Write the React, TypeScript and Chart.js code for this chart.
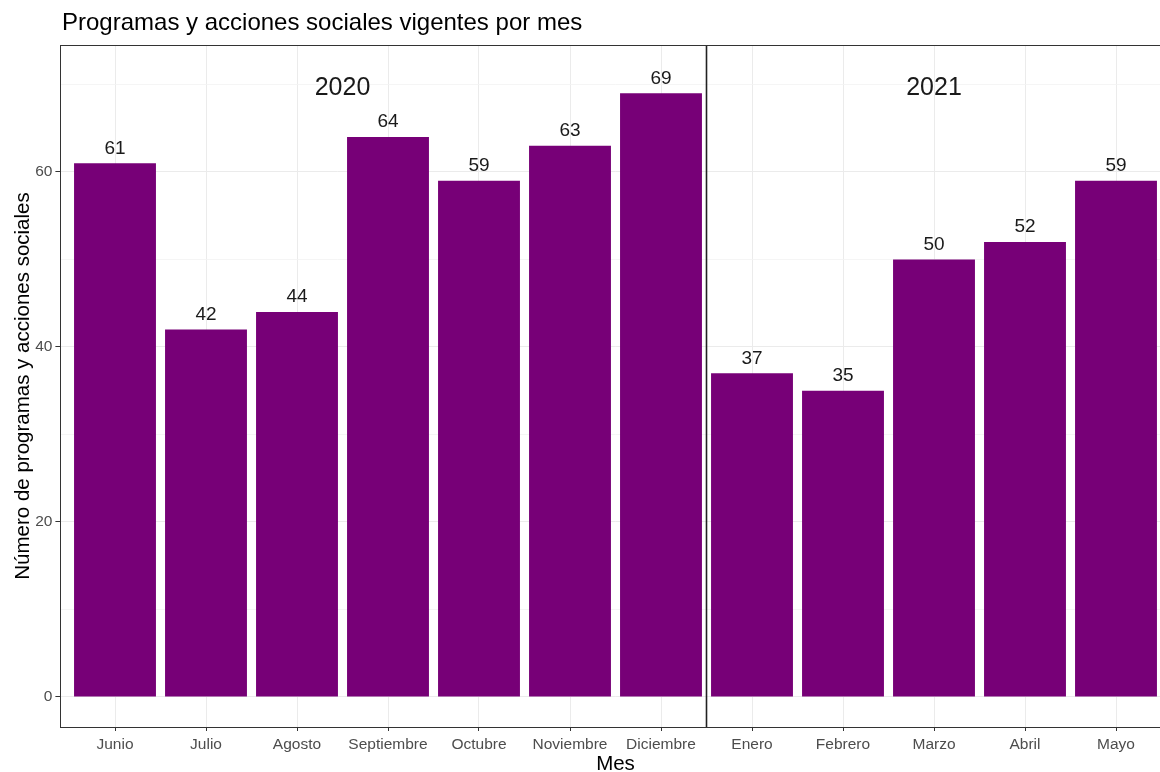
import React, { useEffect, useRef } from "react";
import { Chart, registerables } from "chart.js";

Chart.register(...registerables);

const months = ["Junio", "Julio", "Agosto", "Septiembre", "Octubre", "Noviembre", "Diciembre", "Enero", "Febrero", "Marzo", "Abril", "Mayo"];
const counts = [61, 42, 44, 64, 59, 63, 69, 37, 35, 50, 52, 59];
const yearLabels = ["2020", "2021"];
const yearCenters = [2.5, 9];
const yearLabelValue = 70;
const yearDivider = 6.5;
const yTicks = [0, 10, 20, 30, 40, 50, 60, 70];

const FONT = "'Liberation Sans', Arial, Helvetica, sans-serif";
const BAR_COLOR = "#770077";

export default function App() {
  const ref = useRef<HTMLCanvasElement | null>(null);

  useEffect(() => {
    const canvas = ref.current;
    if (!canvas) return;

    const overlay = {
      id: "overlay",
      beforeDatasetsDraw(chart: any) {
        const { ctx, chartArea, scales } = chart;
        const xp = scales.x.getPixelForValue(yearDivider);
        ctx.save();
        ctx.strokeStyle = "#222222";
        ctx.lineWidth = 1.6;
        ctx.beginPath();
        ctx.moveTo(xp, chartArea.top);
        ctx.lineTo(xp, chartArea.bottom);
        ctx.stroke();
        ctx.restore();
      },
      afterDatasetsDraw(chart: any) {
        const { ctx, chartArea, scales } = chart;
        ctx.save();
        const meta = chart.getDatasetMeta(0);
        ctx.fillStyle = "#1a1a1a";
        ctx.font = `19px ${FONT}`;
        ctx.textAlign = "center";
        ctx.textBaseline = "alphabetic";
        meta.data.forEach((bar: any, i: number) => {
          ctx.fillText(String(counts[i]), bar.x, bar.y - 9.5);
        });
        ctx.font = `25px ${FONT}`;
        yearLabels.forEach((lab, i) => {
          ctx.fillText(lab, scales.x.getPixelForValue(yearCenters[i]), scales.y.getPixelForValue(yearLabelValue) + 10.5);
        });
        ctx.strokeStyle = "#333333";
        ctx.lineWidth = 1;
        ctx.strokeRect(Math.round(chartArea.left) + 0.5, Math.round(chartArea.top) + 0.5, Math.round(chartArea.right - chartArea.left), Math.round(chartArea.bottom - chartArea.top));
        ctx.fillStyle = "#000000";
        ctx.textAlign = "left";
        ctx.font = `24px ${FONT}`;
        ctx.fillText("Programas y acciones sociales vigentes por mes", 62, 30);
        ctx.textAlign = "center";
        ctx.font = `20.5px ${FONT}`;
        ctx.fillText("Mes", (chartArea.left + chartArea.right) / 2, 770);
        ctx.translate(29, (chartArea.top + chartArea.bottom) / 2);
        ctx.rotate(-Math.PI / 2);
        ctx.fillText("Número de programas y acciones sociales", 0, 0);
        ctx.restore();
      },
    };

    const chart = new Chart(canvas, {
      type: "bar",
      data: {
        datasets: [
          {
            data: counts.map((v, i) => ({ x: i, y: v })),
            backgroundColor: BAR_COLOR,
            borderWidth: 0,
            barPercentage: 0.9,
            categoryPercentage: 1,
          },
        ],
      },
      options: {
        responsive: false,
        animation: false,
        devicePixelRatio: 1,
        layout: { padding: { top: 45, left: 0, right: 9.4, bottom: 0 } },
        plugins: { legend: { display: false }, tooltip: { enabled: false }, title: { display: false } },
        scales: {
          x: {
            type: "linear",
            min: -0.6,
            max: 11.6,
            offset: false,
            afterBuildTicks: (scale: any) => {
              scale.ticks = months.map((_, i) => ({ value: i }));
            },
            afterFit: (scale: any) => {
              scale.height = 45;
            },
            ticks: {
              autoSkip: false,
              maxRotation: 0,
              minRotation: 0,
              padding: 4,
              color: "#4D4D4D",
              font: { family: FONT, size: 15.5 },
              callback: (v: any) => months[Math.round(Number(v))] ?? "",
            },
            grid: {
              offset: false,
              color: "#EBEBEB",
              lineWidth: 1,
              tickLength: 4,
              tickColor: "#333333",
              drawTicks: true,
            },
            border: { display: false },
          },
          y: {
            type: "linear",
            min: -3.43,
            max: 74.5,
            afterBuildTicks: (scale: any) => {
              scale.ticks = yTicks.map((v) => ({ value: v }));
            },
            afterFit: (scale: any) => {
              scale.width = 60.4;
            },
            ticks: {
              autoSkip: false,
              padding: 3,
              color: "#4D4D4D",
              font: { family: FONT, size: 15.5 },
              callback: (v: any) => (Number(v) % 20 === 0 ? String(v) : ""),
            },
            grid: {
              color: (c: any) => (c.tick && c.tick.value % 20 === 0 ? "#EBEBEB" : "#F2F2F2"),
              lineWidth: (c: any) => (c.tick && c.tick.value % 20 === 0 ? 1 : 0.8),
              tickLength: 5,
              tickColor: (c: any) => (c.tick && c.tick.value % 20 === 0 ? "#333333" : "rgba(0,0,0,0)"),
              drawTicks: true,
            },
            border: { display: false },
          },
        },
      },
      plugins: [overlay],
    } as any);

    return () => chart.destroy();
  }, []);

  return (
    <div style={{ position: "fixed", left: 0, top: 0, width: 1160, height: 772, overflow: "hidden", background: "#ffffff" }}>
      <canvas ref={ref} width={1180} height={772} style={{ width: 1180, height: 772, display: "block" }} />
    </div>
  );
}
